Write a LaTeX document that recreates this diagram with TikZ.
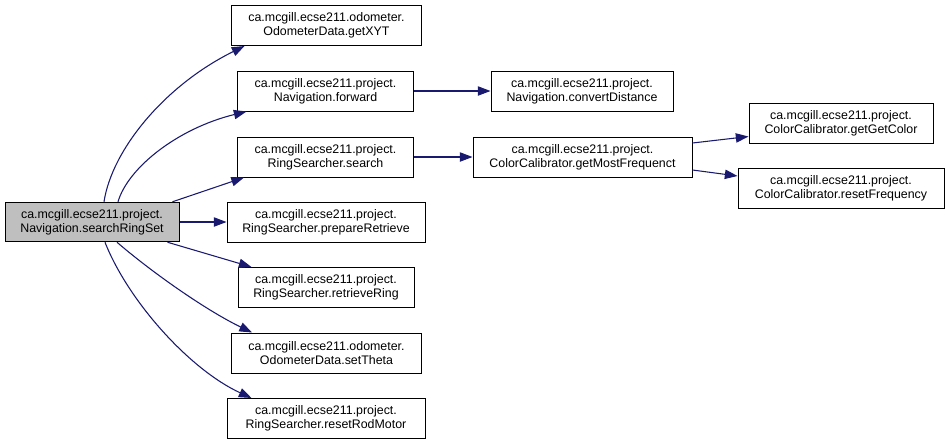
\documentclass[tikz,border=0pt]{standalone}
\usepackage{fontspec}
\setmainfont{Liberation Sans}
\usetikzlibrary{arrows.meta,calc}
\definecolor{edgeblue}{HTML}{191970}
\definecolor{rootgray}{HTML}{BFBFBF}
\begin{document}
\begin{tikzpicture}[x=0.75pt,y=-0.75pt,
  fn/.style={draw=black, line width=0.75pt, fill=white, align=center, inner sep=0pt,
    minimum width=#1*0.75pt, minimum height=30pt,
    font=\fontsize{9.3}{10.6}\selectfont},
  rootfn/.style={fn=#1, fill=rootgray, minimum height=29.6pt},
  call/.style={draw=edgeblue, line width=0.8pt, -{Triangle[length=9.5pt,width=7pt]}}]
\useasboundingbox (0,0) rectangle (948,444);

\node[rootfn=174] (root) at (92,222) {ca.mcgill.ecse211.project.\\Navigation.searchRingSet};
\node[fn=190] (getXYT) at (326.5,25.5) {ca.mcgill.ecse211.odometer.\\OdometerData.getXYT};
\node[fn=176] (forward) at (325.5,91) {ca.mcgill.ecse211.project.\\Navigation.forward};
\node[fn=176] (search) at (325.5,157) {ca.mcgill.ecse211.project.\\RingSearcher.search};
\node[fn=198] (prep) at (326,222) {ca.mcgill.ecse211.project.\\RingSearcher.prepareRetrieve};
\node[fn=176] (retrieve) at (326,287.5) {ca.mcgill.ecse211.project.\\RingSearcher.retrieveRing};
\node[fn=190] (theta) at (326.5,353) {ca.mcgill.ecse211.odometer.\\OdometerData.setTheta};
\node[fn=198] (rod) at (326,418.5) {ca.mcgill.ecse211.project.\\RingSearcher.resetRodMotor};
\node[fn=182] (conv) at (582,91) {ca.mcgill.ecse211.project.\\Navigation.convertDistance};
\node[fn=219] (gmf) at (582.5,157) {ca.mcgill.ecse211.project.\\ColorCalibrator.getMostFrequenct};
\node[fn=184] (ggc) at (841,123) {ca.mcgill.ecse211.project.\\ColorCalibrator.getGetColor};
\node[fn=206] (rf) at (841,188) {ca.mcgill.ecse211.project.\\ColorCalibrator.resetFrequency};

\draw[call] ($(root.north)+(12,0)$) .. controls +(8,-52) and +(-80,39.5) .. ($(getXYT.south west)+(13.5,0)$);
\draw[call] ($(root.north)+(26,0)$) .. controls +(10,-34) and +(-69,17) .. ($(forward.south west)+(9.5,0)$);
\draw[call] ($(root.north east)+(-7,0)$) -- ($(search.south west)+(7,0)$);
\draw[call] (root.east) -- (prep.west);
\draw[call] ($(root.south east)+(-12,0)$) -- ($(retrieve.north west)+(14,0)$);
\draw[call] ($(root.south)+(25,0)$) .. controls +(33,28.5) and +(-47.5,-23) .. ($(theta.north west)+(21,0)$);
\draw[call] ($(root.south)+(13,0)$) .. controls +(23,58.5) and +(-62,-28.5) .. ($(rod.north west)+(25,0)$);
\draw[call] (forward.east) -- (conv.west);
\draw[call] (search.east) -- (gmf.west);
\draw[call] ($(gmf.east)+(0,-14)$) -- ($(ggc.west)+(0,13.5)$);
\draw[call] ($(gmf.east)+(0,13)$) -- ($(rf.west)+(0,-12)$);
\end{tikzpicture}
\end{document}
